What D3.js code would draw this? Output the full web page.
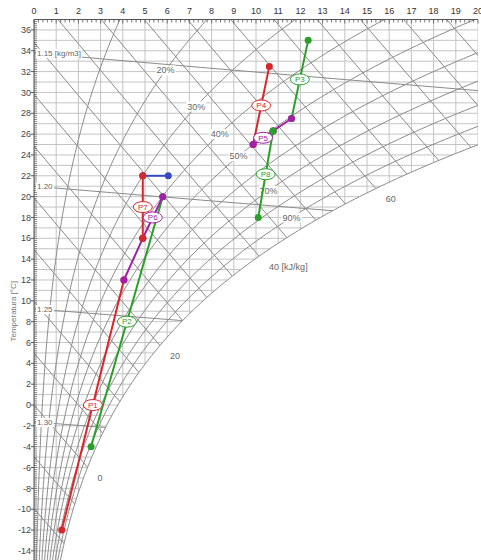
<!DOCTYPE html>
<html><head><meta charset="utf-8">
<script src="https://cdn.jsdelivr.net/npm/d3@7"></script>
<style>html,body{margin:0;padding:0;background:#fff;}svg{display:block;font-family:"Liberation Sans",Arial,sans-serif;}</style>
</head><body>
<script>
// ---- data ----
const xTicks = d3.range(0, 21, 1);              // humidity ratio [g/kg]
const tTicks = d3.range(-14, 37, 2);            // temperature labels [°C]
const rhCurves = [0.1,0.2,0.3,0.4,0.5,0.6,0.7,0.8,0.9];
const rhLabels = [0.2,0.3,0.4,0.5,0.7,0.9];
const rhLabelEnthalpy = 47.5;
const enthalpyLines = d3.range(-15, 90, 5);
const enthalpyLabels = [0, 20, 40, 60];
const densityLines = [1.15, 1.20, 1.25, 1.30];
const densityLabels = ["1.15 [kg/m3]", "1.20", "1.25", "1.30"];

const procNames = ["P1","P2","","P6","","P7","P4","P5","P3","","P8"];
const procKind  = ["red","green","purple","purple","blue","red","red","purple","green","purple","green"];
const startT = [-12, -4, 12, 16, 22, 16, 25, 25, 27.5, 26.3, 18];
const startX = [1.25, 2.57, 4.05, 4.9, 4.9, 4.9, 9.87, 9.87, 11.6, 10.77, 10.1];
const endT   = [12, 20, 16, 20, 22, 22, 32.5, 26.3, 35, 27.5, 26.3];
const endX   = [4.05, 5.8, 4.9, 5.8, 6.05, 4.9, 10.6, 10.77, 12.35, 11.6, 10.77];

// ---- styles ----
const colors = {red:"#d8262a", green:"#2aa02a", purple:"#a020a8", blue:"#3548c8"};
const W = 481, H = 560;
const P = 101325;

const x = d3.scaleLinear().domain([0,20]).range([34,478]);
const y = d3.scaleLinear().domain([-15,37]).range([561.3,19.5]);

function pws(t){ return 610.94*Math.exp(17.625*t/(t+243.04)); }
function xOf(t, phi){ const p = phi*pws(t); return 622*p/(P-p); }
function tOfH(h, xx){ return (h - 2.501*xx)/(1.006+0.00186*xx); }
function xOfH(h, t){ return (h - 1.006*t)/(2.501+0.00186*t); }
function tOfRho(rho, xx){ const k=xx/1000; return P*(1+k)/(287.055*rho*(1+1.6078*k)) - 273.15; }
function bisect(f, a, b){ let fa=f(a); for(let i=0;i<60;i++){ const m=(a+b)/2, fm=f(m); if((fm>0)===(fa>0)){a=m;fa=fm;} else b=m; } return (a+b)/2; }

const svg = d3.select("body").append("svg").attr("width",W).attr("height",H);
const defs = svg.append("defs");
defs.append("clipPath").attr("id","plot").append("rect")
  .attr("x",x(0)).attr("y",y(37)).attr("width",x(20)-x(0)).attr("height",y(-15)-y(37));
const satPts = [[x(0),y(-15)],[x(0),y(37)],[x(20),y(37)]];
for(let t=37;t>=-15.001;t-=0.1) satPts.push([x(Math.min(xOf(t,1),20)), y(t)]);
defs.append("clipPath").attr("id","unsat").append("path").attr("d", d3.line()(satPts)+"Z");

const line = d3.line().x(d=>x(d[0])).y(d=>y(d[1]));
const gU = svg.append("g").attr("clip-path","url(#unsat)");
const gP = svg.append("g").attr("clip-path","url(#plot)");

// grid
gU.selectAll("line.v").data(xTicks).join("line")
  .attr("x1",d=>x(d)).attr("x2",d=>x(d)).attr("y1",y(37)).attr("y2",y(-15))
  .attr("stroke","#c4c4c4").attr("stroke-width",1);
gU.selectAll("line.h").data(d3.range(-15,38,1)).join("line")
  .attr("x1",x(0)).attr("x2",x(20)).attr("y1",d=>y(d)).attr("y2",d=>y(d))
  .attr("stroke","#c4c4c4").attr("stroke-width",1);

const lineCol = "#8a8a8a";
// enthalpy lines
gU.selectAll("path.h").data(enthalpyLines).join("path")
  .attr("d", h => line(d3.range(0,20.01,0.5).map(xx=>[xx,tOfH(h,xx)])))
  .attr("fill","none").attr("stroke",lineCol).attr("stroke-width",1);
// density lines
gU.selectAll("path.rho").data(densityLines).join("path")
  .attr("d", r => line(d3.range(0,20.01,0.5).map(xx=>[xx,tOfRho(r,xx)])))
  .attr("fill","none").attr("stroke",lineCol).attr("stroke-width",1);
// RH curves + saturation
gP.selectAll("path.rh").data(rhCurves.concat([1])).join("path")
  .attr("d", phi => line(d3.range(-15,37.01,0.25).map(t=>[xOf(t,phi),t])))
  .attr("fill","none").attr("stroke",lineCol).attr("stroke-width",1);

// axes
const axisCol = "#555";
svg.append("line").attr("x1",x(0)).attr("x2",x(20)).attr("y1",y(37)).attr("y2",y(37)).attr("stroke",axisCol);
svg.append("line").attr("x1",x(0)).attr("x2",x(0)).attr("y1",y(37)).attr("y2",H).attr("stroke",axisCol);
svg.selectAll("line.tx").data(d3.range(0,20.01,0.2)).join("line")
  .attr("x1",d=>x(d)).attr("x2",d=>x(d)).attr("y1",y(37)).attr("y2",d=>y(37)+ (Math.abs(d-Math.round(d))<1e-6?4:3))
  .attr("stroke",axisCol).attr("stroke-width",0.8);
svg.selectAll("text.tx").data(xTicks).join("text")
  .attr("x",d=>x(d)).attr("y",14).attr("text-anchor","middle")
  .attr("font-size",9).attr("fill","#333").text(d=>d);
svg.selectAll("line.ty").data(d3.range(-15,37.01,0.2)).join("line")
  .attr("x1",x(0)).attr("x2",x(0)+3).attr("y1",d=>y(d)).attr("y2",d=>y(d))
  .attr("stroke",axisCol).attr("stroke-width",0.7);
svg.selectAll("line.tym").data(tTicks).join("line")
  .attr("x1",x(0)-3).attr("x2",x(0)).attr("y1",d=>y(d)).attr("y2",d=>y(d))
  .attr("stroke",axisCol).attr("stroke-width",1);
svg.selectAll("text.ty").data(tTicks).join("text")
  .attr("x",x(0)-3).attr("y",d=>y(d)).attr("dy","0.35em").attr("text-anchor","end")
  .attr("font-size",9).attr("fill","#444").text(d=>d);
svg.append("text").attr("transform",`translate(13,${y(9)}) rotate(-90)`)
  .attr("text-anchor","middle").attr("dy","0.35em").attr("font-size",8).attr("fill","#777")
  .text("Temperatura [°C]");

// labels with white background
function boxLabel(g, px, py, txt, anchor, fs){
  const t = g.append("text").attr("x",px).attr("y",py).attr("dy","0.35em")
    .attr("text-anchor",anchor).attr("font-size",fs).attr("fill","#666").text(txt);
  const b = t.node().getBBox();
  g.insert("rect","text").attr("x",b.x-1).attr("y",b.y).attr("width",b.width+2).attr("height",b.height).attr("fill","#fff");
}
const gL = svg.append("g");
rhLabels.forEach(phi=>{
  const t = bisect(tt => 1.006*tt + xOf(tt,phi)*(2.501+0.00186*tt) - rhLabelEnthalpy, -15, 37);
  const g = gL.append("g");
  boxLabel(g, x(xOf(t,phi)), y(t), Math.round(phi*100)+"%", "middle", 9);
});
densityLines.forEach((r,i)=>{
  const g = gL.append("g");
  boxLabel(g, x(0)+3, y(tOfRho(r,0.2)), densityLabels[i], "start", 8);
});
enthalpyLabels.forEach(h=>{
  const ti = bisect(tt => xOf(tt,1) - xOfH(h,tt), -15, 37);
  const tl = ti - 1;
  gL.append("text").attr("x",x(xOfH(h,tl))+1).attr("y",y(tl)).attr("dy","0.35em")
    .attr("font-size",9).attr("fill","#666").text(h===40 ? "40 [kJ/kg]" : String(h));
});

// processes
const gProc = svg.append("g");
procNames.forEach((n,i)=>{
  const c = colors[procKind[i]];
  gProc.append("path").attr("d", line([[startX[i],startT[i]],[endX[i],endT[i]]]))
    .attr("stroke",c).attr("stroke-width",2).attr("fill","none");
  gProc.selectAll(null).data([[startX[i],startT[i]],[endX[i],endT[i]]]).join("circle")
    .attr("cx",d=>x(d[0])).attr("cy",d=>y(d[1])).attr("r",3.5).attr("fill",c);
});
procNames.forEach((n,i)=>{
  if(!n) return;
  const c = colors[procKind[i]];
  const mx = x((startX[i]+endX[i])/2), my = y((startT[i]+endT[i])/2);
  gProc.append("ellipse").attr("cx",mx).attr("cy",my).attr("rx",9.5).attr("ry",5.5)
    .attr("fill","#fff").attr("stroke",c).attr("stroke-width",1);
  gProc.append("text").attr("x",mx).attr("y",my).attr("dy","0.35em").attr("text-anchor","middle")
    .attr("font-size",8).attr("fill",c).text(n);
});
</script>
</body></html>
